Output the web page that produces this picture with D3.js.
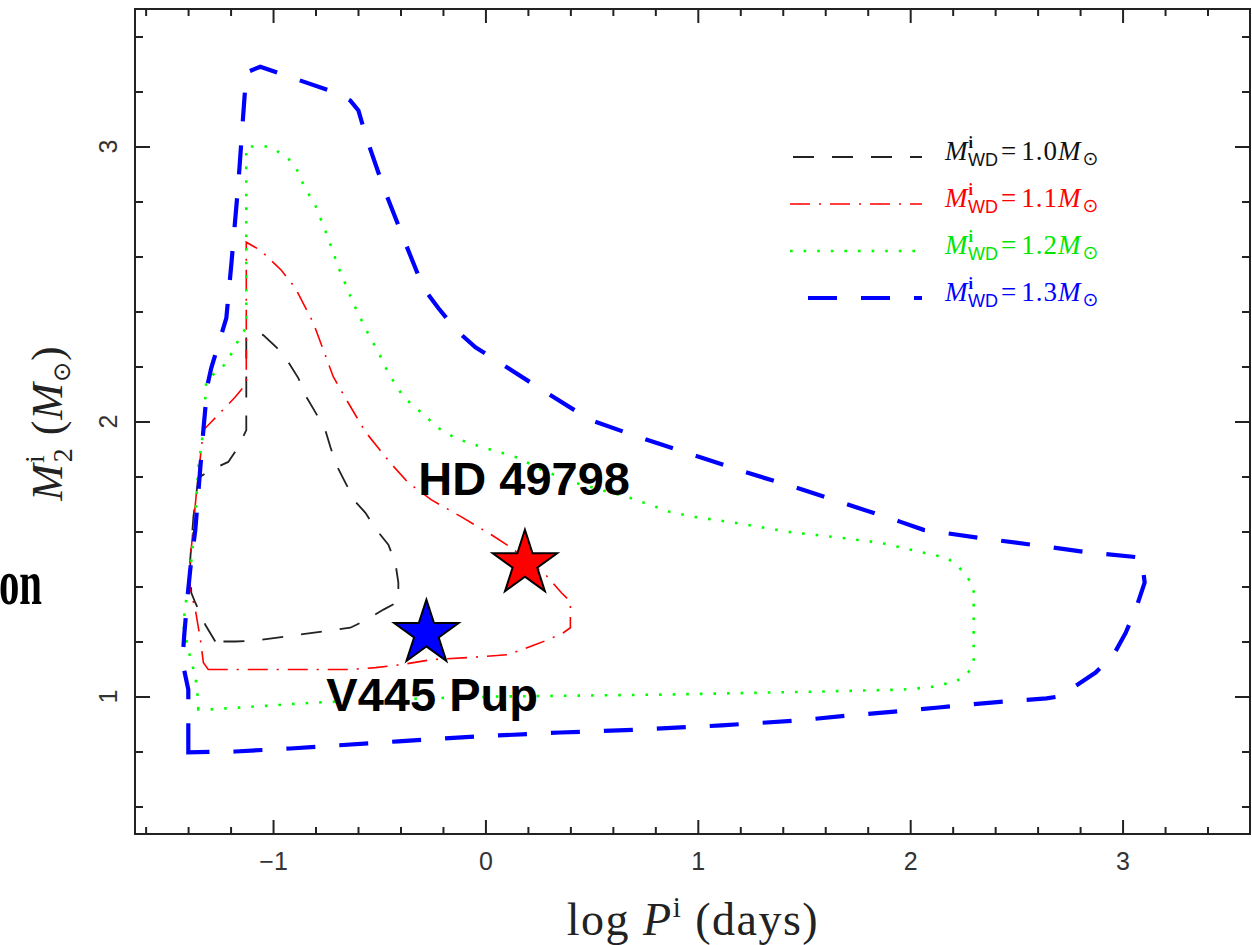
<!DOCTYPE html>
<html><head><meta charset="utf-8">
<script src="https://cdn.jsdelivr.net/npm/d3@7"></script>
<style>body{margin:0;background:#fff}</style>
</head><body><svg id="c" width="1252" height="945"></svg>
<script>
// ---------- data ----------
const xTicks = [-1, 0, 1, 2, 3];
const xTickLabels = ["\u22121", "0", "1", "2", "3"];
const yTicks = [1, 2, 3];
const yTickLabels = ["1", "2", "3"];
const seriesMasses = ["1.0", "1.1", "1.2", "1.3"];

const logP_10 = [-1.272,-1.319,-1.366,-1.385,-1.390,-1.375,-1.352,-1.291,-1.211,-1.163,-1.126,-1.126,-1.088,-1.046,-0.984,-0.928,-0.881,-0.843,-0.801,-0.754,-0.730,-0.702,-0.659,-0.612,-0.565,-0.513,-0.457,-0.424,-0.410,-0.410,-0.480,-0.561,-0.636,-0.730,-0.914,-1.083,-1.178];
const M2_10   = [1.200,1.261,1.341,1.377,1.497,1.653,1.795,1.824,1.853,1.907,1.969,2.307,2.325,2.314,2.270,2.216,2.158,2.089,2.034,1.969,1.907,1.842,1.777,1.708,1.668,1.606,1.552,1.486,1.414,1.345,1.316,1.279,1.250,1.240,1.221,1.203,1.200];

const logP_11 = [-1.305,-1.328,-1.342,-1.366,-1.390,-1.390,-1.361,-1.328,-1.291,-1.178,-1.140,-1.126,-1.126,-1.060,-0.961,-0.895,-0.810,-0.716,-0.659,-0.565,-0.447,-0.363,-0.254,-0.113,0.028,0.122,0.283,0.358,0.400,0.400,0.367,0.297,0.236,0.108,-0.071,-0.254,-0.396,-0.518,-0.636,-1.281];
const M2_11   = [1.098,1.123,1.207,1.316,1.388,1.497,1.740,1.969,1.998,2.089,2.125,2.140,2.652,2.623,2.550,2.485,2.358,2.162,2.085,1.962,1.849,1.777,1.715,1.653,1.588,1.541,1.443,1.377,1.345,1.250,1.232,1.207,1.189,1.152,1.142,1.134,1.116,1.105,1.098,1.098];

const logP_12 = [-1.352,-1.357,-1.366,-1.399,-1.423,-1.409,-1.390,-1.366,-1.352,-1.328,-1.314,-1.267,-1.220,-1.163,-1.126,-1.126,-1.022,-0.984,-0.928,-0.890,-0.867,-0.834,-0.801,-0.754,-0.692,-0.622,-0.561,-0.504,-0.457,-0.386,-0.316,-0.221,-0.151,-0.080,0.028,0.155,0.264,0.424,0.683,0.867,0.984,1.173,1.423,1.677,1.861,1.983,2.110,2.171,2.219,2.261,2.299,2.299,2.266,2.214,2.087,1.960,1.573,0.848,0.075,-0.301,-0.801,-1.295];
const M2_12   = [0.953,1.025,1.073,1.171,1.261,1.352,1.450,1.653,1.831,1.969,2.151,2.180,2.212,2.296,2.343,3.000,3.000,2.985,2.956,2.920,2.877,2.829,2.786,2.695,2.561,2.430,2.332,2.252,2.176,2.089,2.042,1.976,1.944,1.922,1.897,1.868,1.824,1.777,1.722,1.672,1.653,1.632,1.599,1.577,1.559,1.537,1.515,1.505,1.479,1.443,1.399,1.116,1.080,1.054,1.033,1.025,1.018,1.007,1.000,0.993,0.978,0.953];

const logP_13 = [-1.399,-1.399,-1.399,-1.427,-1.418,-1.404,-1.390,-1.366,-1.347,-1.328,-1.309,-1.291,-1.220,-1.196,-1.163,-1.145,-1.126,-1.060,-0.692,-0.636,-0.598,-0.561,-0.480,-0.386,-0.292,-0.221,-0.137,-0.047,0.071,0.283,0.495,0.735,0.980,1.220,1.465,1.710,1.955,2.063,2.322,2.572,2.821,3.090,3.104,3.066,3.015,2.958,2.873,2.760,2.699,2.642,2.383,2.134,1.884,1.710,1.474,1.112,0.735,0.353,-0.033,-0.410,-0.919,-1.178];
const M2_13   = [0.797,0.927,1.025,1.127,1.225,1.352,1.461,1.606,1.788,1.969,2.132,2.194,2.376,2.575,2.869,3.065,3.269,3.290,3.192,3.167,3.131,3.033,2.851,2.666,2.485,2.412,2.332,2.270,2.212,2.107,2.005,1.940,1.878,1.817,1.759,1.697,1.635,1.606,1.577,1.552,1.526,1.505,1.414,1.327,1.232,1.152,1.087,1.029,1.000,0.993,0.978,0.960,0.942,0.931,0.913,0.895,0.880,0.869,0.855,0.837,0.811,0.800];

const starNames = ["HD 49798", "V445 Pup"];
const starLogP  = [0.186, -0.278];
const starM2    = [1.483, 1.229];
const labelLogP = [-0.316, -0.749];
const labelM2   = [1.733, 0.946];

// ---------- setup ----------
const svg = d3.select("#c");
const x = d3.scaleLinear().domain([-1.65, 3.6]).range([135, 1250]);
const y = d3.scaleLinear().domain([0.5, 3.5]).range([834, 9]);
const axisCol = "#222";
const tickFont = "Liberation Sans, Arial, sans-serif";
const serif = "Liberation Serif, DejaVu Serif, serif";

const xMinor = d3.range(-8, 18).map(i => i / 5).filter(v => Math.abs(v - Math.round(v)) > 1e-6);
const yMinor = d3.range(3, 18).map(i => i / 5).filter(v => Math.abs(v - Math.round(v)) > 1e-6);

function styleAxis(g) {
  g.select(".domain").remove();
  g.attr("color", axisCol);
  g.selectAll(".tick line").attr("stroke-width", 2);
}

// bottom
svg.append("g").attr("transform", `translate(0,${y.range()[0]})`)
  .call(d3.axisBottom(x).tickValues(xMinor).tickSizeInner(-7).tickSizeOuter(0).tickFormat(""))
  .call(styleAxis);
svg.append("g").attr("transform", `translate(0,${y.range()[0]})`)
  .call(d3.axisBottom(x).tickValues(xTicks).tickSizeInner(-14).tickSizeOuter(0).tickPadding(18)
        .tickFormat((d, i) => xTickLabels[i]))
  .call(styleAxis)
  .call(g => g.selectAll("text").attr("font-size", 25).attr("font-family", tickFont).attr("fill", "#333"));
// top
svg.append("g").attr("transform", `translate(0,${y.range()[1]})`)
  .call(d3.axisTop(x).tickValues(xMinor).tickSizeInner(-7).tickSizeOuter(0).tickFormat(""))
  .call(styleAxis);
svg.append("g").attr("transform", `translate(0,${y.range()[1]})`)
  .call(d3.axisTop(x).tickValues(xTicks).tickSizeInner(-14).tickSizeOuter(0).tickFormat(""))
  .call(styleAxis);
// left
svg.append("g").attr("transform", `translate(${x.range()[0]},0)`)
  .call(d3.axisLeft(y).tickValues(yMinor).tickSizeInner(-8).tickSizeOuter(0).tickFormat(""))
  .call(styleAxis);
svg.append("g").attr("transform", `translate(${x.range()[0]},0)`)
  .call(d3.axisLeft(y).tickValues(yTicks).tickSizeInner(-15).tickSizeOuter(0).tickFormat(""))
  .call(styleAxis);
// right
svg.append("g").attr("transform", `translate(${x.range()[1]},0)`)
  .call(d3.axisRight(y).tickValues(yMinor).tickSizeInner(-8).tickSizeOuter(0).tickFormat(""))
  .call(styleAxis);
svg.append("g").attr("transform", `translate(${x.range()[1]},0)`)
  .call(d3.axisRight(y).tickValues(yTicks).tickSizeInner(-15).tickSizeOuter(0).tickFormat(""))
  .call(styleAxis);

// y tick labels (rotated)
svg.append("g").selectAll("text").data(yTicks).join("text")
  .attr("transform", d => `translate(117,${y(d)}) rotate(-90)`)
  .attr("text-anchor", "middle")
  .attr("font-family", tickFont).attr("font-size", 25).attr("fill", "#333")
  .text((d, i) => yTickLabels[i]);

// frame
svg.append("rect").attr("x", x.range()[0]).attr("y", y.range()[1])
  .attr("width", x.range()[1] - x.range()[0]).attr("height", y.range()[0] - y.range()[1])
  .attr("fill", "none").attr("stroke", axisCol).attr("stroke-width", 2);

// ---------- curves ----------
const series = [
  { m: seriesMasses[0], P: logP_10, M: M2_10, color: "#222",    width: 1.8, dash: "21,18" },
  { m: seriesMasses[1], P: logP_11, M: M2_11, color: "#ff0000", width: 1.6, dash: "20,9,2,9" },
  { m: seriesMasses[2], P: logP_12, M: M2_12, color: "#00ff00", width: 2.6, dash: "2.6,11" },
  { m: seriesMasses[3], P: logP_13, M: M2_13, color: "#0000ff", width: 4.2, dash: "29,24" }
];
const line = d3.line().x(d => x(d[0])).y(d => y(d[1])).curve(d3.curveLinearClosed);
svg.append("g").selectAll("path").data(series).join("path")
  .attr("d", s => line(d3.zip(s.P, s.M)))
  .attr("fill", "none").attr("stroke", s => s.color).attr("stroke-width", s => s.width)
  .attr("stroke-dasharray", s => s.dash);

// ---------- legend ----------
const legY = [157, 204, 251, 298];
const legX0 = [793, 790, 790, 808];
const legTextCol = ["#111", "#ff0000", "#00e600", "#0000ff"];
const leg = svg.append("g");
series.forEach((s, i) => {
  leg.append("line").attr("x1", legX0[i]).attr("x2", 922).attr("y1", legY[i]).attr("y2", legY[i])
    .attr("stroke", s.color).attr("stroke-width", s.width).attr("stroke-dasharray", s.dash);
  const t = leg.append("text").attr("x", 945).attr("y", legY[i] + 3)
    .attr("font-family", serif).attr("font-size", 27).attr("fill", legTextCol[i]);
  t.append("tspan").attr("font-style", "italic").text("M");
  t.append("tspan").attr("font-size", 16).attr("font-weight", "bold").attr("dy", -12).attr("dx", 1).text("i");
  t.append("tspan").attr("font-size", 18).attr("font-family", "Liberation Sans, Arial, sans-serif")
    .attr("dx", -5).attr("dy", 18).text("WD");
  t.append("tspan").attr("dy", -6).attr("dx", 3).text("=");
  t.append("tspan").attr("dx", 5).attr("letter-spacing", 1).text(s.m);
  t.append("tspan").attr("font-style", "italic").text("M");
  t.append("tspan").attr("font-size", 19).attr("font-family", "DejaVu Sans, sans-serif").attr("dx", 2).attr("dy", 5).text("\u2299");
});

// ---------- stars ----------
const starColors = ["#ff0000", "#0000ff"];
const star = d3.symbol().type(d3.symbolStar).size(1290);
svg.append("g").selectAll("path").data(starNames).join("path")
  .attr("transform", (d, i) => `translate(${x(starLogP[i])},${y(starM2[i])})`)
  .attr("d", star).attr("fill", (d, i) => starColors[i])
  .attr("stroke", "#000").attr("stroke-width", 2).attr("stroke-linejoin", "miter");

svg.append("g").selectAll("text").data(starNames).join("text")
  .attr("x", (d, i) => x(labelLogP[i])).attr("y", (d, i) => y(labelM2[i]))
  .attr("font-family", "Liberation Sans, Arial, sans-serif").attr("font-weight", "bold")
  .attr("font-size", 47).attr("fill", "#000").text(d => d);

// ---------- axis titles ----------
const xt = svg.append("text").attr("x", 693).attr("y", 935).attr("text-anchor", "middle")
  .attr("font-family", serif).attr("font-size", 46).attr("letter-spacing", 1.5).attr("fill", "#222");
xt.append("tspan").text("log ");
xt.append("tspan").attr("font-style", "italic").text("P");
xt.append("tspan").attr("font-size", 29).attr("dy", -18).text("i");
xt.append("tspan").attr("dy", 18).text(" (days)");

const yt = svg.append("text").attr("transform", "translate(62,423) rotate(-90)").attr("text-anchor", "middle")
  .attr("font-family", serif).attr("font-size", 44).attr("letter-spacing", 1).attr("fill", "#222");
yt.append("tspan").attr("font-style", "italic").text("M");
yt.append("tspan").attr("font-size", 28).attr("dy", -18).text("i");
yt.append("tspan").attr("font-size", 28).attr("dx", -8).attr("dy", 28).text("2");
yt.append("tspan").attr("dy", -10).text(" (");
yt.append("tspan").attr("font-style", "italic").text("M");
yt.append("tspan").attr("font-size", 24).attr("font-family", "DejaVu Sans, sans-serif").attr("dy", 8).text("\u2299");
yt.append("tspan").attr("dy", -8).text(")");

// cropped slide text at the left edge
svg.append("text").attr("transform", "translate(42,604) scale(0.68,1.05)").attr("text-anchor", "end")
  .attr("font-family", serif).attr("font-weight", "bold").attr("font-size", 60).attr("fill", "#000").text("on");
</script></body></html>
